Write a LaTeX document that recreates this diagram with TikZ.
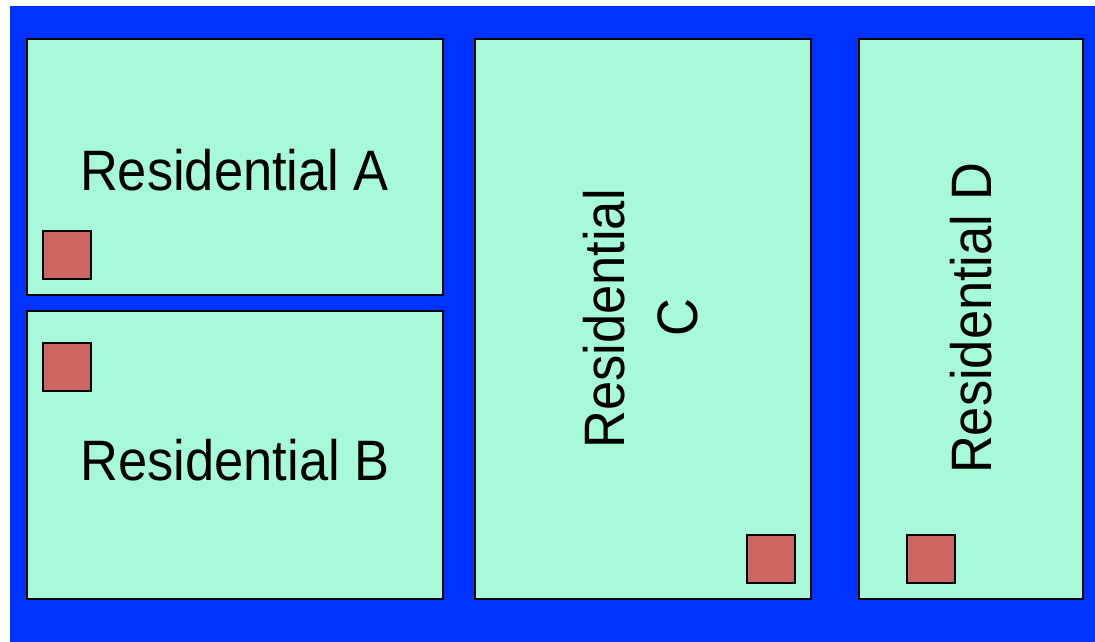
\documentclass[tikz,border=0pt]{standalone}
\usepackage{fontspec}
\setmainfont{Liberation Sans}[FakeStretch=0.92]
\definecolor{roadblue}{RGB}{0,51,255}
\definecolor{lotmint}{RGB}{166,250,216}
\definecolor{bldred}{RGB}{204,102,96}
\begin{document}
\begin{tikzpicture}[x=1pt,y=-1pt,
  lot/.style={draw=black,line width=2pt,fill=lotmint,inner sep=0pt,anchor=north west},
  bld/.style={draw=black,line width=1.6pt,fill=bldred,inner sep=0pt,anchor=north west,minimum width=48pt,minimum height=48pt},
  lbl/.style={inner sep=0pt,anchor=base,font=\fontsize{57}{70}\selectfont}]
\useasboundingbox (0,0) rectangle (1095,642);
\fill[roadblue] (10,6) rectangle (1095,642);
\node[lot,minimum width=416pt,minimum height=256pt] (lotA) at (26,38) {};
\node[lot,minimum width=416pt,minimum height=288pt] (lotB) at (26,310) {};
\node[lot,minimum width=336pt,minimum height=560pt] (lotC) at (474,38) {};
\node[lot,minimum width=224pt,minimum height=560pt] (lotD) at (858,38) {};
\node[bld] (bldA) at (42,230) {};
\node[bld] (bldB) at (42,342) {};
\node[bld] (bldC) at (746,534) {};
\node[bld] (bldD) at (906,534) {};
\node[lbl] (labA) at (234.5,190) {Residential A};
\node[lbl] (labB) at (235,480) {Residential B};
\node[lbl,rotate=90] (labC1) at (624,319) {Residential};
\node[lbl,rotate=90] (labC2) at (697,318) {C};
\node[lbl,rotate=90] (labD) at (991,318) {Residential D};
\end{tikzpicture}
\end{document}
